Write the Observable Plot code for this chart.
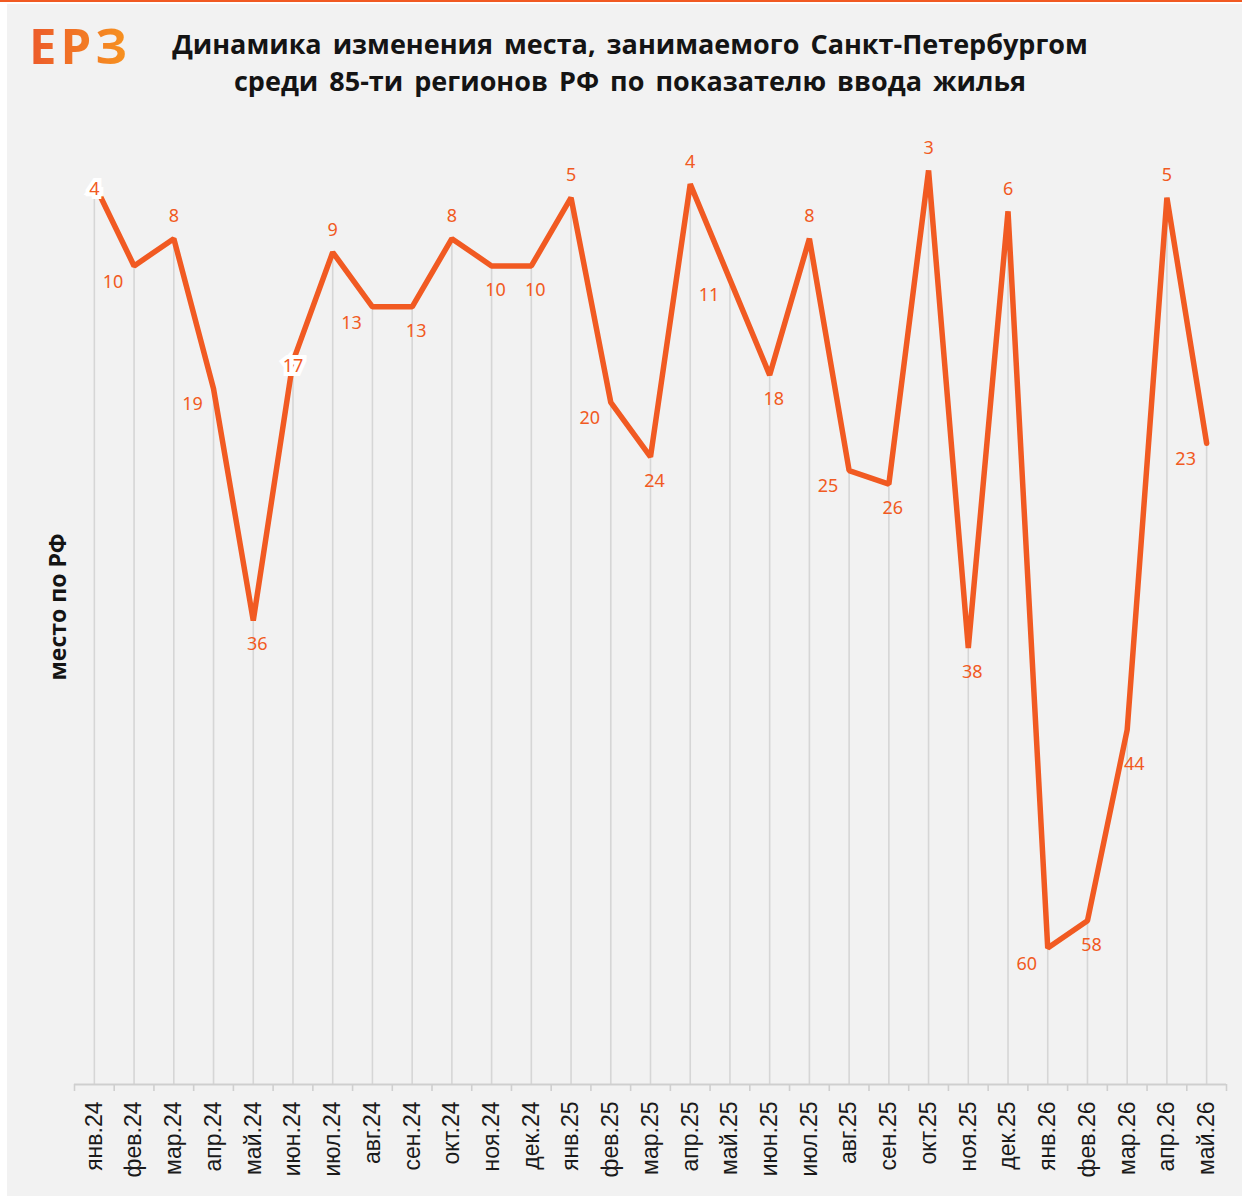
<!DOCTYPE html>
<html><head><meta charset="utf-8">
<script src="https://cdn.jsdelivr.net/npm/d3@7"></script>
<script src="https://cdn.jsdelivr.net/npm/@observablehq/plot@0.6"></script>
<style>
body{margin:0;background:#fff;}
#wrap{position:relative;width:1242px;height:1196px;overflow:hidden;}
#topline{position:absolute;left:0;top:0;width:1242px;height:2px;background:#f15a22;}
#panel{position:absolute;left:7px;top:4px;width:1235px;height:1192px;background:#f2f2f2;}
#logo{position:absolute;left:29px;top:14px;font:700 49px "Open Sans";letter-spacing:4px;line-height:62px;
  background:linear-gradient(90deg,#ec5a2b,#f7941f);-webkit-background-clip:text;background-clip:text;color:transparent;}
#title{position:absolute;left:130px;width:1000px;top:25px;text-align:center;font:700 27px "Open Sans";line-height:37px;color:#141414;word-spacing:4px;}
#chart{position:absolute;left:0;top:120px;}
</style></head>
<body>
<div id="wrap">
  <div id="topline"></div>
  <div id="panel"></div>
  <div id="logo">ЕРЗ</div>
  <div id="title">Динамика изменения места, занимаемого Санкт-Петербургом<br>среди 85-ти регионов РФ по показателю ввода жилья</div>
  <div id="chart"></div>
</div>
<script>
const months = ["янв.24","фев.24","мар.24","апр.24","май.24","июн.24","июл.24","авг.24","сен.24","окт.24","ноя.24","дек.24",
  "янв.25","фев.25","мар.25","апр.25","май.25","июн.25","июл.25","авг.25","сен.25","окт.25","ноя.25","дек.25",
  "янв.26","фев.26","мар.26","апр.26","май.26"];
const ranks = [4,10,8,19,36,17,9,13,13,8,10,10,5,20,24,4,11,18,8,25,26,3,38,6,60,58,44,5,23];
// data-label placement (as in the source chart): c = centre, l = left, t = above, b = below, f = far below
const labelPlace = ["c","l","t","l","b","c","t","l","b","t","b","b","t","l","b","t","l","b","t","l","b","t","b","t","l","b","f","t","l"];
const yLabel = "место по РФ";

const data = months.map((m, i) => ({m, v: ranks[i], p: labelPlace[i]}));
const W = 1242, H = 1076, ML = 74, MR = 16, MT = 9, MB = 112;
const step = (W - ML - MR) / months.length;
const orange = "#f15a22";
const lblFont = {fill: orange, fontSize: 18, fontFamily: "Noto Sans", text: "v"};
const offsets = {c: [0, 5], l: [-21, 16], t: [0, -22], b: [4, 24], f: [7, 34]};

const marks = [
  Plot.ruleX(data, {x: "m", y1: "v", y2: 70, stroke: "#d6d6d6", strokeWidth: 1.6}),
  Plot.ruleY([70], {stroke: "#cfcfcf", strokeWidth: 2}),
  Plot.ruleX(months, {x: d => d, y1: 70, y2: 70, insetBottom: -7, dx: -step / 2, stroke: "#cfcfcf", strokeWidth: 1.6}),
  Plot.ruleX([months[months.length - 1]], {x: d => d, y1: 70, y2: 70, insetBottom: -7, dx: step / 2, stroke: "#cfcfcf", strokeWidth: 1.6}),
  Plot.axisX({tickRotate: -90, tickSize: 0, tickPadding: 17, fontSize: 23, fill: "#1a1a1a", fontFamily: "Liberation Sans", label: null}),
  Plot.line(data, {x: "m", y: "v", stroke: orange, strokeWidth: 5.5, strokeLinejoin: "miter", strokeLinecap: "round"}),
  Plot.text([yLabel], {frameAnchor: "left", dx: -16, rotate: -90, textAnchor: "middle", text: d => d, fontSize: 23, fontWeight: "bold", fontFamily: "Open Sans", fill: "#141414"})
];
for (const [code, [dx, dy]] of Object.entries(offsets)) {
  const subset = data.filter(d => d.p === code);
  marks.push(Plot.text(subset, {x: "m", y: "v", dx, dy, ...lblFont,
    ...(code === "c" ? {stroke: "white", strokeWidth: 8, strokeLinejoin: "miter"} : {})}));
}

const chart = Plot.plot({
  width: W, height: H, marginLeft: ML, marginRight: MR, marginTop: MT, marginBottom: MB,
  style: {background: "transparent", overflow: "visible"},
  x: {type: "band", domain: months, padding: 0, round: false, axis: null},
  y: {domain: [0, 70], reverse: true, axis: null},
  marks
});
document.getElementById("chart").append(chart);
</script>
</body></html>
